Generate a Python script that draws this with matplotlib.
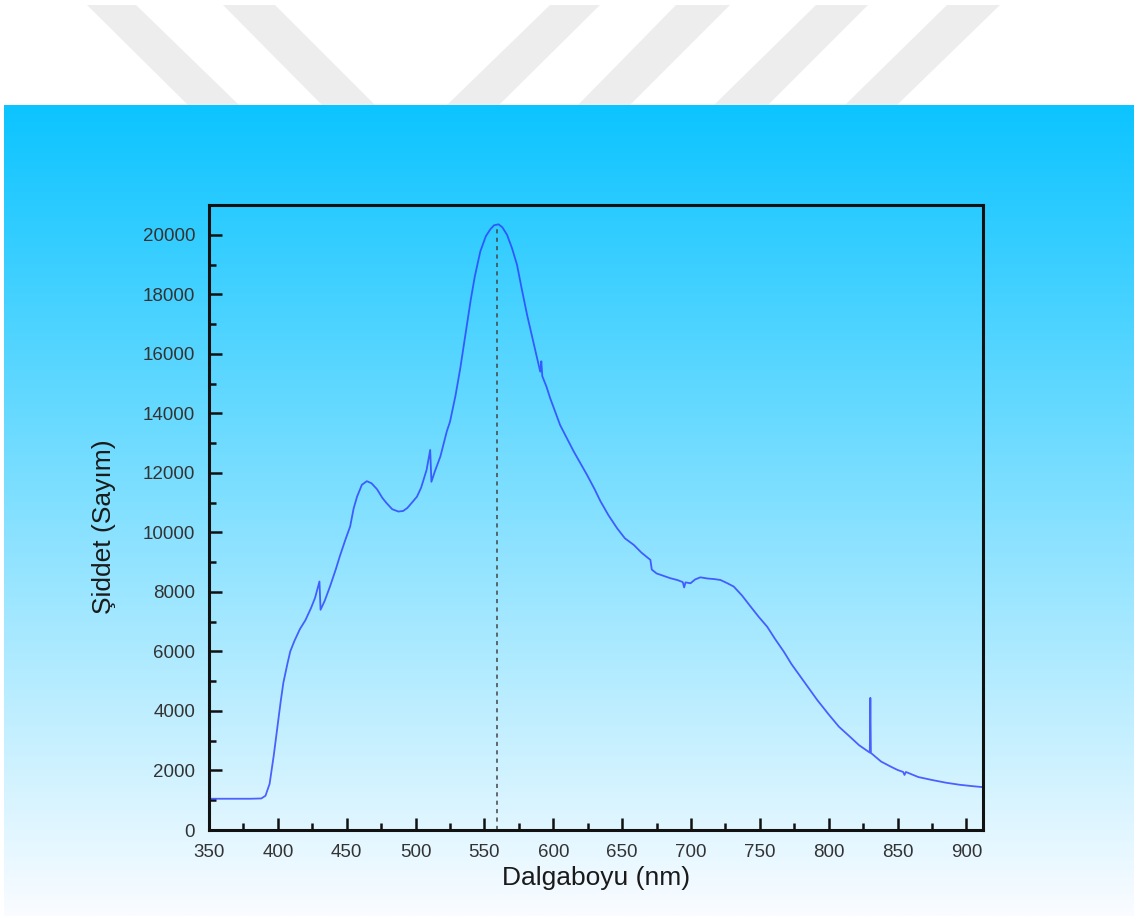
import matplotlib
matplotlib.use('Agg')
import matplotlib.pyplot as plt
import numpy as np
from matplotlib.patches import Polygon
from matplotlib.ticker import MultipleLocator

# spectrum (nm, counts)
wavelength = [350, 360, 370, 380, 388, 391, 394, 397, 399.5, 402, 404, 407, 409, 412, 416, 420,
              424, 427, 430.2, 431, 434, 438, 442, 445, 449, 452.5, 455, 457.5, 461, 464.6, 468,
              472, 476, 479, 483, 487.5, 491, 494, 497, 501, 504, 506, 508, 510.6, 511.5, 514,
              518, 522.7, 525, 529, 532.4, 536, 540, 543, 547, 551, 554.2, 557, 560.3, 563,
              566.4, 570, 573.6, 577, 581, 584.5, 588.2, 590.5, 591.3, 592, 595, 597.8, 601,
              605, 610, 614.8, 620, 624.5, 630, 634.2, 640, 646.3, 652, 658.4, 664, 670.5,
              671.5, 675, 680, 685, 690, 694, 695, 696, 699.6, 703, 706.8, 712, 717, 721.4,
              726, 731, 737, 743.2, 749, 755.3, 761, 767.4, 773, 779.5, 786, 791.6, 800,
              807.4, 815, 822, 829.8, 830.2, 830.6, 838, 845, 850, 854, 855, 856, 865, 875,
              885, 895, 905, 912]
intensity = [1050, 1050, 1050, 1050, 1060, 1150, 1550, 2500, 3400, 4300, 4950, 5600, 6000, 6350,
             6750, 7050, 7450, 7800, 8350, 7400, 7700, 8200, 8750, 9200, 9750, 10200, 10800,
             11200, 11600, 11720, 11650, 11450, 11150, 10980, 10780, 10700, 10720, 10820,
             10980, 11200, 11500, 11800, 12100, 12770, 11700, 12050, 12550, 13400, 13720,
             14600, 15500, 16600, 17800, 18600, 19440, 19950, 20180, 20320, 20350, 20250,
             20000, 19550, 19000, 18200, 17300, 16600, 15850, 15400, 15750, 15250, 14900,
             14500, 14100, 13600, 13150, 12720, 12300, 11930, 11450, 11050, 10580, 10140,
             9800, 9580, 9320, 9075, 8750, 8620, 8540, 8460, 8400, 8330, 8150, 8320, 8290,
             8420, 8490, 8450, 8430, 8400, 8300, 8180, 7880, 7510, 7170, 6830, 6420, 5990,
             5570, 5150, 4730, 4370, 3880, 3470, 3150, 2850, 2600, 4440, 2590, 2300, 2130,
             2017, 1950, 1850, 1950, 1780, 1680, 1590, 1520, 1470, 1440]

peak_nm = 559.3
peak_counts = 20300

W, H = 1134, 922
fig = plt.figure(figsize=(W / 100, H / 100), dpi=100)
fig.patch.set_facecolor('white')

# grey watermark stripes at the top (pixel corners -> figure coords)
stripes = [[(87, 5), (136, 5), (239, 105), (188, 105)],
           [(223, 5), (275, 5), (375, 105), (322, 105)],
           [(550, 5), (600, 5), (499, 105), (447, 105)],
           [(676, 5), (730, 5), (630, 105), (578, 105)],
           [(816, 5), (868, 5), (768, 105), (714, 105)],
           [(947, 5), (1000, 5), (897, 105), (845, 105)]]
for s in stripes:
    pts = [(x / W, 1 - y / H) for x, y in s]
    fig.patches.append(Polygon(pts, closed=True, transform=fig.transFigure,
                               facecolor='#ededed', edgecolor='none', zorder=0))

# blue gradient panel
bg = fig.add_axes([4 / W, 1 - 916 / H, (W - 4) / W, (916 - 105) / H], zorder=0)
top = np.array([12, 196, 255]) / 255
bot = np.array([250, 252, 255]) / 255
t = np.linspace(0, 1, 400)[:, None]
grad = top * (1 - t) + bot * t
bg.imshow(grad[:, None, :], aspect='auto', extent=[0, 1, 0, 1])
bg.axis('off')

ax = fig.add_axes([209 / W, 1 - 830 / H, (983 - 209) / W, (830 - 205) / H], zorder=1)
ax.set_facecolor('none')

ax.plot(wavelength, intensity, color='#2a3cff', lw=1.3, alpha=0.8)
ax.plot([peak_nm, peak_nm], [0, peak_counts], color='#444444', lw=1.1,
        linestyle=(0, (2.7, 2.8)))

ax.set_xlim(350, 912)
ax.set_ylim(0, 21000)
ax.xaxis.set_major_locator(MultipleLocator(50))
ax.xaxis.set_minor_locator(MultipleLocator(25))
ax.yaxis.set_major_locator(MultipleLocator(2000))
ax.yaxis.set_minor_locator(MultipleLocator(1000))

font = 'Liberation Sans'
ax.tick_params(which='both', direction='in', width=1.8, color='#111111',
               labelsize=13.5, labelcolor='#333333', pad=10)
ax.tick_params(which='major', length=9)
ax.tick_params(which='minor', length=5)
for lab in ax.get_xticklabels() + ax.get_yticklabels():
    lab.set_family(font)
for sp in ax.spines.values():
    sp.set_linewidth(2.2)
    sp.set_color('#111111')

ax.set_xlabel('Dalgaboyu (nm)', fontsize=19, family=font, color='#1a1a1a')
ax.set_ylabel('Şiddet (Sayım)', fontsize=19, family=font, color='#1a1a1a')
ax.xaxis.set_label_coords(0.5, -0.058)
ax.yaxis.set_label_coords(-0.12, 0.485)

fig.savefig('out.png', dpi=100)
